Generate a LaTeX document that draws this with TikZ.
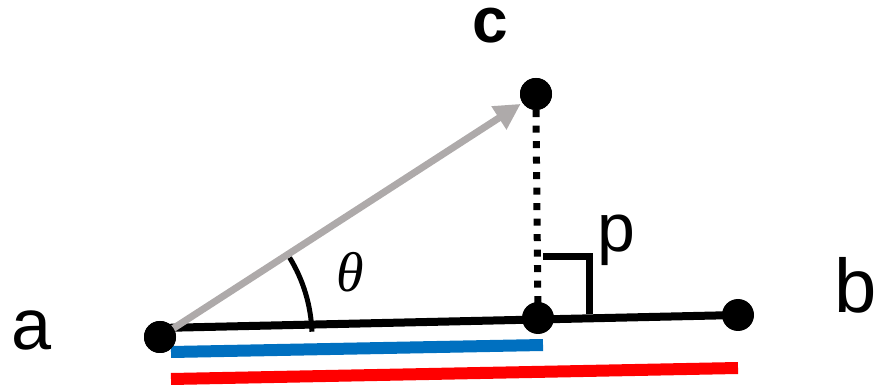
\documentclass[tikz,border=0pt]{standalone}
\usepackage{fontspec}
\setmainfont{Liberation Sans}
\newfontfamily\thetafont{Liberation Serif}
\usetikzlibrary{arrows.meta,calc}
\definecolor{vecgray}{HTML}{AEAAAA}
\definecolor{projblue}{HTML}{0070C0}
\definecolor{fullred}{HTML}{FF0000}
\begin{document}
\begin{tikzpicture}[x=1pt,y=-1pt,
  dot/.style={circle,fill=black,inner sep=0pt,minimum size=32pt},
  lbl/.style={anchor=base,inner sep=0pt,text=black},
  baseline/.style={line width=8pt,black},
  vec/.style={line width=7pt,vecgray,-{Triangle[length=26pt,width=26pt]},shorten >=2pt},
  perp/.style={line width=7pt,black,dash pattern=on 7pt off 8.5pt},
  rightmark/.style={line width=7pt,black},
  anglearc/.style={line width=5pt,black},
  bluebar/.style={line width=12pt,projblue},
  redbar/.style={line width=12pt,fullred}]
\useasboundingbox (0,0) rectangle (876,387);
% points
\node[dot] (a) at (160,337) {};
\node[dot] (b) at (738,315) {};
\node[dot] (p) at (538,318) {};
\node[dot] (c) at (536,94) {};
% labels
\node[lbl,font=\fontsize{72}{80}\selectfont] (la) at (32,350) {a};
\node[lbl,font=\fontsize{76}{80}\selectfont] (lb) at (856,313) {b};
\node[lbl,font=\fontsize{64}{70}\selectfont\bfseries,text height=0.55em] (lc) at (490,43) {c};
\node[lbl,font=\fontsize{68}{76}\selectfont] (lp) at (616,252) {p};
\node[lbl,font=\fontsize{56}{60}\selectfont\thetafont\itshape] (lt) at (350,292) {θ};
% base line a-b
\draw[baseline] ([yshift=9pt]a.center) -- (b.center);
% projection dotted line
\draw[perp] (c.south) -- (p.center);
% right angle mark
\coordinate (r1) at (543,257);
\coordinate (r2) at (589.5,257);
\coordinate (r3) at (589.5,314);
\draw[rightmark] (r1) -- (r2) -- (r3);
% angle arc
\draw[anglearc] ($(a.center)+(2:152pt)$) arc[start angle=2,end angle=31.5,radius=152pt];
% vector a->c
\draw[vec] (a.center) -- (c);
% bars
\coordinate (bl) at (171,352);
\coordinate (br) at (543,345);
\coordinate (rl) at (171,379);
\coordinate (rr) at (738,368);
\draw[bluebar] (bl) -- (br);
\draw[redbar] (rl) -- (rr);
% redraw dots on top
\node[dot] at (a) {};
\node[dot] at (c) {};
\end{tikzpicture}
\end{document}
